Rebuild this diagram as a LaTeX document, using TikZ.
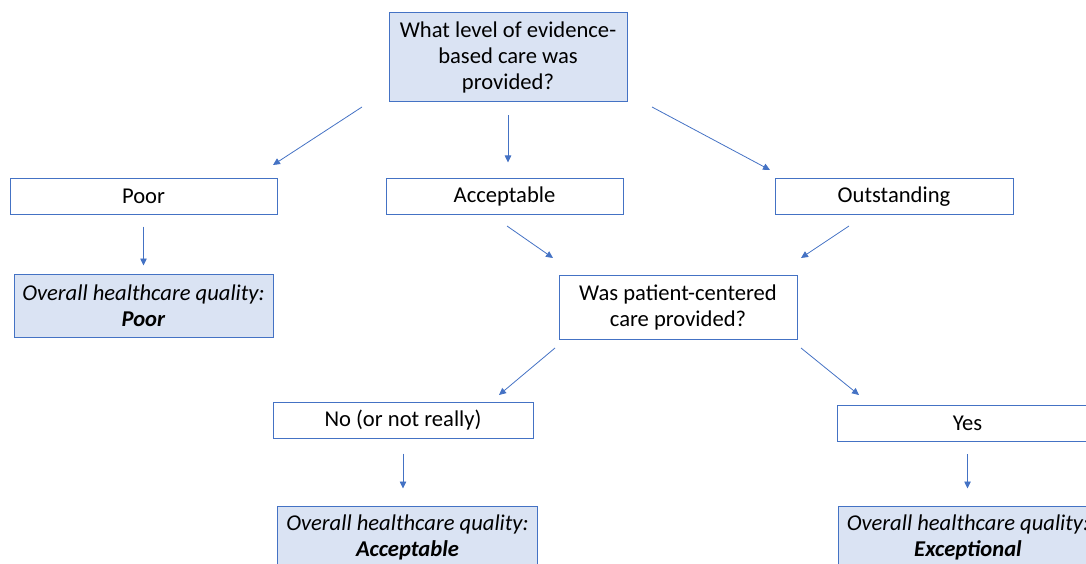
\documentclass[tikz,border=0pt]{standalone}
\usepackage{fontspec}
\setmainfont{Carlito}
\usetikzlibrary{arrows.meta}
\definecolor{BoxBlue}{RGB}{68,114,196}
\definecolor{LightBlue}{RGB}{218,227,243}

\begin{document}
\begin{tikzpicture}[x=1pt,y=-1pt,
    every node/.style={font=\fontsize{22.6}{26}\selectfont, align=center, inner sep=0pt},
    Box/.style={draw=BoxBlue, line width=1pt, fill=white},
    ResultBox/.style={Box, fill=LightBlue},
    Arrow/.style={BoxBlue, line width=0.8pt, -{Triangle[length=7pt,width=6.5pt]}}]
  \useasboundingbox (0,0) rectangle (1086,564);
  % questions
  \node[ResultBox, minimum width=238pt, minimum height=89pt] (q) at (508,57.5)
    {What level of evidence-\\based care was\\provided?};
  \node[Box, minimum width=238pt, minimum height=64pt] (was) at (678,307)
    {Was patient-centered\\care provided?};
  % answers
  \node[Box, minimum width=267pt, minimum height=35pt] (poor) at (143.5,196.5) {Poor};
  \node[Box, minimum width=237pt, minimum height=35pt] (acc) at (504.5,196.5) {Acceptable};
  \node[Box, minimum width=238pt, minimum height=35pt] (out) at (894,196.5) {Outstanding};
  \node[Box, minimum width=260pt, minimum height=36pt] (no) at (403,420) {No (or not really)};
  \node[Box, minimum width=260pt, minimum height=36pt] (yes) at (967.5,423.5) {Yes};
  % results
  \node[ResultBox, minimum width=259pt, minimum height=63pt] (rpoor) at (143.5,305.5)
    {\textit{Overall healthcare quality:}\\\textbf{\textit{Poor}}};
  \node[ResultBox, minimum width=260pt, minimum height=63pt] (racc) at (407.5,537.5)
    {\textit{Overall healthcare quality:}\\\textbf{\textit{Acceptable}}};
  \node[ResultBox, minimum width=260pt, minimum height=63pt] (rexc) at (968,537.5)
    {\textit{Overall healthcare quality:}\\\textbf{\textit{Exceptional}}};
  % free arrow ends
  \coordinate (q-poor) at (362,107);   \coordinate (poor-in) at (273,165);
  \coordinate (q-out) at (652,107);    \coordinate (out-in) at (770,170);
  \coordinate (acc-was) at (507,226);  \coordinate (was-in1) at (553,258);
  \coordinate (out-was) at (849,226);  \coordinate (was-in2) at (801,258);
  \coordinate (was-no) at (555,348);   \coordinate (no-in) at (499,395);
  \coordinate (was-yes) at (801,348);  \coordinate (yes-in) at (859,395);
  % edges
  \draw[Arrow] (q-poor) -- (poor-in);
  \draw[Arrow, shorten <=13pt, shorten >=16pt] (q.south) -- (q.south |- acc.north);
  \draw[Arrow] (q-out) -- (out-in);
  \draw[Arrow, shorten <=12pt, shorten >=8pt] (poor) -- (rpoor);
  \draw[Arrow] (acc-was) -- (was-in1);
  \draw[Arrow] (out-was) -- (was-in2);
  \draw[Arrow] (was-no) -- (no-in);
  \draw[Arrow] (was-yes) -- (yes-in);
  \draw[Arrow, shorten <=15pt, shorten >=17pt] (no.south) -- (no.south |- racc.north);
  \draw[Arrow, shorten <=12pt, shorten >=17pt] (yes.south) -- (yes.south |- rexc.north);
\end{tikzpicture}
\end{document}
